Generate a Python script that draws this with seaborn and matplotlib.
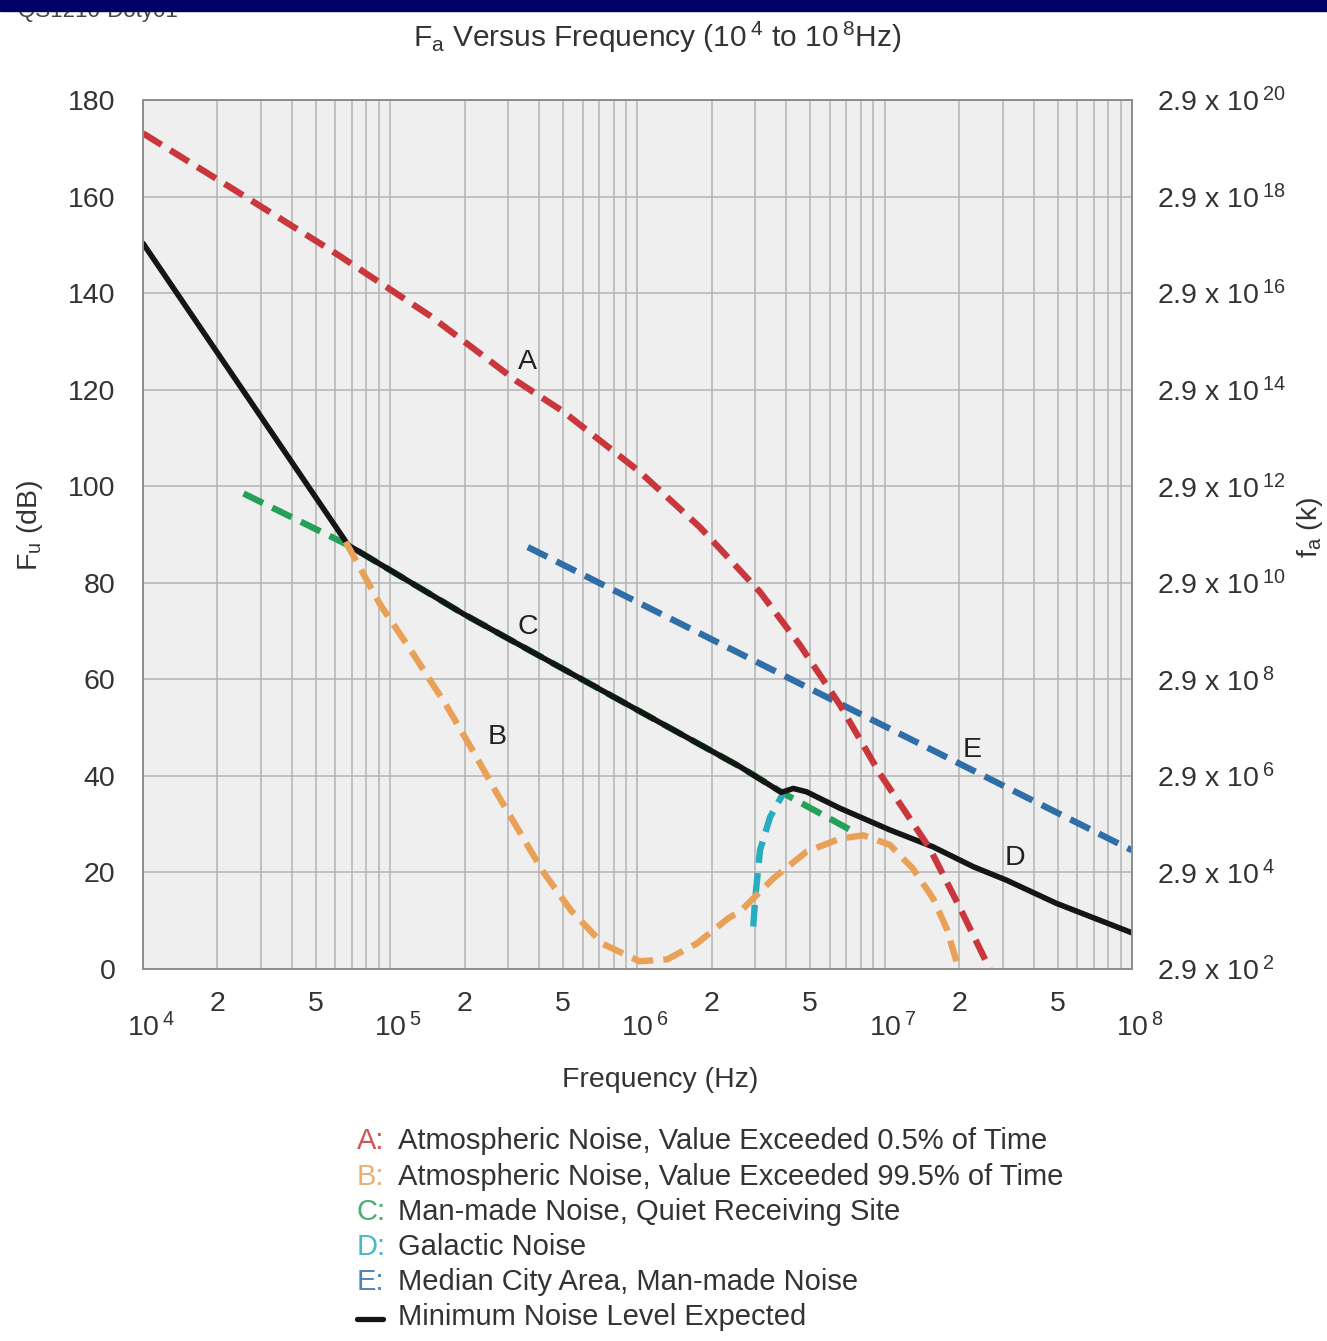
import numpy as np
import pandas as pd
import matplotlib
matplotlib.use("Agg")
import matplotlib.pyplot as plt
import matplotlib.transforms as mtrans
from matplotlib.patches import Rectangle
import seaborn as sns

# curve A: atmospheric noise, 0.5% of time
freq_a = [1.0e4, 2.24e4, 5.75e4, 1.45e5, 3.24e5, 5.0e5, 1.02e6, 1.79e6, 3.13e6,
          4.54e6, 6.59e6, 9.55e6, 1.52e7, 2.0e7, 2.66e7]
db_a = [173.1, 162.0, 148.9, 135.3, 121.8, 115.5, 103.0, 91.5, 78.1,
        67.1, 54.7, 40.5, 25.0, 13.0, 0.0]

# curve B: atmospheric noise, 99.5% of time
freq_b = [6.6e4, 9.1e4, 1.23e5, 1.69e5, 2.17e5, 2.69e5, 3.24e5, 4.17e5, 5.37e5,
          7.24e5, 1.02e6, 1.32e6, 1.74e6, 2.34e6, 2.6e6, 3.55e6, 4.83e6, 6.6e6,
          8.2e6, 1.05e7, 1.3e7, 1.57e7, 1.78e7, 1.98e7]
db_b = [88.5, 75.5, 65.5, 54.5, 45.0, 36.5, 29.5, 20.0, 12.2,
        5.2, 1.6, 2.0, 5.3, 10.6, 11.9, 18.8, 24.3, 27.0,
        27.7, 25.7, 20.8, 14.6, 8.4, 0.5]

# curve C: man-made noise, quiet site (mostly hidden under the minimum line)
freq_c = [2.55e4, 6.76e4, 1.97e5, 2.6e6, 3.89e6, 7.7e6]
db_c = [98.5, 87.8, 73.6, 41.9, 36.4, 28.1]

# curve D: galactic noise
freq_d = [2.94e6, 2.99e6, 3.13e6, 3.44e6, 3.89e6]
db_d = [8.8, 14.3, 24.6, 31.5, 36.4]

# curve E: median city area
freq_e = [3.6e5, 1.0e8]
db_e = [87.4, 24.6]

# minimum noise level expected
freq_min = [1.0e4, 6.76e4, 1.97e5, 2.6e6, 3.82e6, 4.27e6, 4.83e6, 6.59e6,
            1.05e7, 1.57e7, 2.28e7, 3.11e7, 4.95e7, 1.0e8]
db_min = [150.3, 87.8, 73.6, 41.9, 36.6, 37.4, 36.7, 33.3,
          28.8, 25.3, 21.2, 18.4, 13.6, 7.5]

curve_labels = ["A", "B", "C", "D", "E"]
label_freq = [3.6e5, 2.7e5, 3.6e5, 3.37e7, 2.25e7]
label_db = [125.7, 48.0, 70.8, 23.0, 45.4]

legend_text = ["Atmospheric Noise, Value Exceeded 0.5% of Time",
               "Atmospheric Noise, Value Exceeded 99.5% of Time",
               "Man-made Noise, Quiet Receiving Site",
               "Galactic Noise",
               "Median City Area, Man-made Noise"]

colors = {"A": "#c9373d", "B": "#e9a158", "C": "#24a057",
          "D": "#27adbf", "E": "#2f6ea6"}

sns.set_style("whitegrid", {"axes.facecolor": "#efefef", "grid.color": "#b3b3b3",
                            "axes.edgecolor": "#8c8c8c"})
plt.rcParams["font.family"] = ["Liberation Sans", "DejaVu Sans"]
plt.rcParams["mathtext.fontset"] = "custom"
plt.rcParams["mathtext.rm"] = "Liberation Sans"
plt.rcParams["mathtext.it"] = "Liberation Sans"
plt.rcParams["text.color"] = "#333333"

fs = 20.5

fig = plt.figure(figsize=(13.27, 13.41), dpi=100)
ax = fig.add_axes([0.1078, 0.2774, 0.7452, 0.648])
ax.set_xscale("log")

dash = (0, (3.4, 1.6))
lw = 4.6
sns.lineplot(x=freq_e, y=db_e, ax=ax, color=colors["E"], linewidth=lw, linestyle=dash)
sns.lineplot(x=freq_c, y=db_c, ax=ax, color=colors["C"], linewidth=lw, linestyle=dash)
sns.lineplot(x=freq_d, y=db_d, ax=ax, color=colors["D"], linewidth=lw, linestyle=dash, sort=False)
sns.lineplot(x=freq_min, y=db_min, ax=ax, color="#151515", linewidth=4.0)
sns.lineplot(x=freq_a, y=db_a, ax=ax, color=colors["A"], linewidth=lw, linestyle=dash)
sns.lineplot(x=freq_b, y=db_b, ax=ax, color=colors["B"], linewidth=lw, linestyle=dash)

for lab, fx, fy in zip(curve_labels, label_freq, label_db):
    ax.text(fx, fy, lab, fontsize=fs, ha="center", va="center", color="#222222")

ax.set_xlim(1e4, 1e8)
ax.set_ylim(0, 180)
ax.set_yticks(np.arange(0, 181, 20))
ax.tick_params(axis="y", labelsize=fs, pad=20, length=0, labelcolor="#333333")

dec = [1e4, 1e5, 1e6, 1e7, 1e8]
ax.set_xticks(dec, [r"10$\,^{%d}$" % k for k in range(4, 9)])
minor = [m * d for d in dec[:-1] for m in range(2, 10)]
minor_lab = [str(int(round(v / 10 ** np.floor(np.log10(v))))) if
             round(v / 10 ** np.floor(np.log10(v))) in (2, 5) else "" for v in minor]
ax.set_xticks(minor, minor_lab, minor=True)
ax.tick_params(axis="x", which="major", labelsize=fs, pad=32, length=0, labelcolor="#333333")
ax.tick_params(axis="x", which="minor", labelsize=fs, pad=16, length=0, labelcolor="#333333")
shift = mtrans.ScaledTranslation(8 / 100, 0, fig.dpi_scale_trans)
for lbl in ax.get_xticklabels():
    lbl.set_transform(lbl.get_transform() + shift)
ax.grid(True, which="both", axis="x", color="#b3b3b3", linewidth=1.1)
ax.grid(True, which="major", axis="y", color="#b3b3b3", linewidth=1.1)
for s in ax.spines.values():
    s.set_color("#8c8c8c")
    s.set_linewidth(1.4)

ax2 = ax.twinx()
ax2.set_ylim(0, 180)
ax2.set_yticks(np.arange(0, 181, 20),
               [r"2.9 x 10$\,^{%d}$" % (2 + v // 10) for v in range(0, 181, 20)])
ax2.tick_params(axis="y", labelsize=fs, pad=18, length=0, labelcolor="#333333")
ax2.grid(False)
for s in ax2.spines.values():
    s.set_visible(False)

fig.text(0.495, 1 - 37 / 1341, r"F$_a$ Versus Frequency (10$\,^{4}$ to 10$\,^{8}$Hz)",
         fontsize=21.5, ha="center", va="center")
fig.text(660 / 1327, 1 - 1080 / 1341, "Frequency (Hz)", fontsize=fs, ha="center", va="center")
fig.text(30 / 1327, 1 - 525 / 1341, r"F$_u$ (dB)", fontsize=fs, rotation=90,
         ha="center", va="center")
fig.text(1310 / 1327, 1 - 527 / 1341, r"f$_a$ (k)", fontsize=fs, rotation=90,
         ha="center", va="center")

# legend block under the plot
ys = [1141, 1177, 1212, 1247, 1282]
for lab, txt, y in zip(curve_labels, legend_text, ys):
    fig.text(357 / 1327, 1 - y / 1341, lab + ":", fontsize=21, color=colors[lab],
             ha="left", va="center", alpha=0.85)
    fig.text(398 / 1327, 1 - y / 1341, txt, fontsize=21, ha="left", va="center")
fig.text(398 / 1327, 1 - 1317 / 1341, "Minimum Noise Level Expected", fontsize=21,
         ha="left", va="center")
fig.add_artist(plt.Line2D([357 / 1327, 383 / 1327], [1 - 1319 / 1341, 1 - 1319 / 1341],
                          color="#151515", linewidth=3.8, transform=fig.transFigure))

# doc id peeking under the top banner
fig.text(18 / 1327, 1 - 12 / 1341, "QS1210-Doty01", fontsize=16, ha="left", va="center",
         color="#444444")
fig.add_artist(Rectangle((0, 1 - 11 / 1341), 1, 11 / 1341, transform=fig.transFigure,
                         color="#000066", zorder=10))

fig.savefig("out.png", dpi=100, facecolor="white")
